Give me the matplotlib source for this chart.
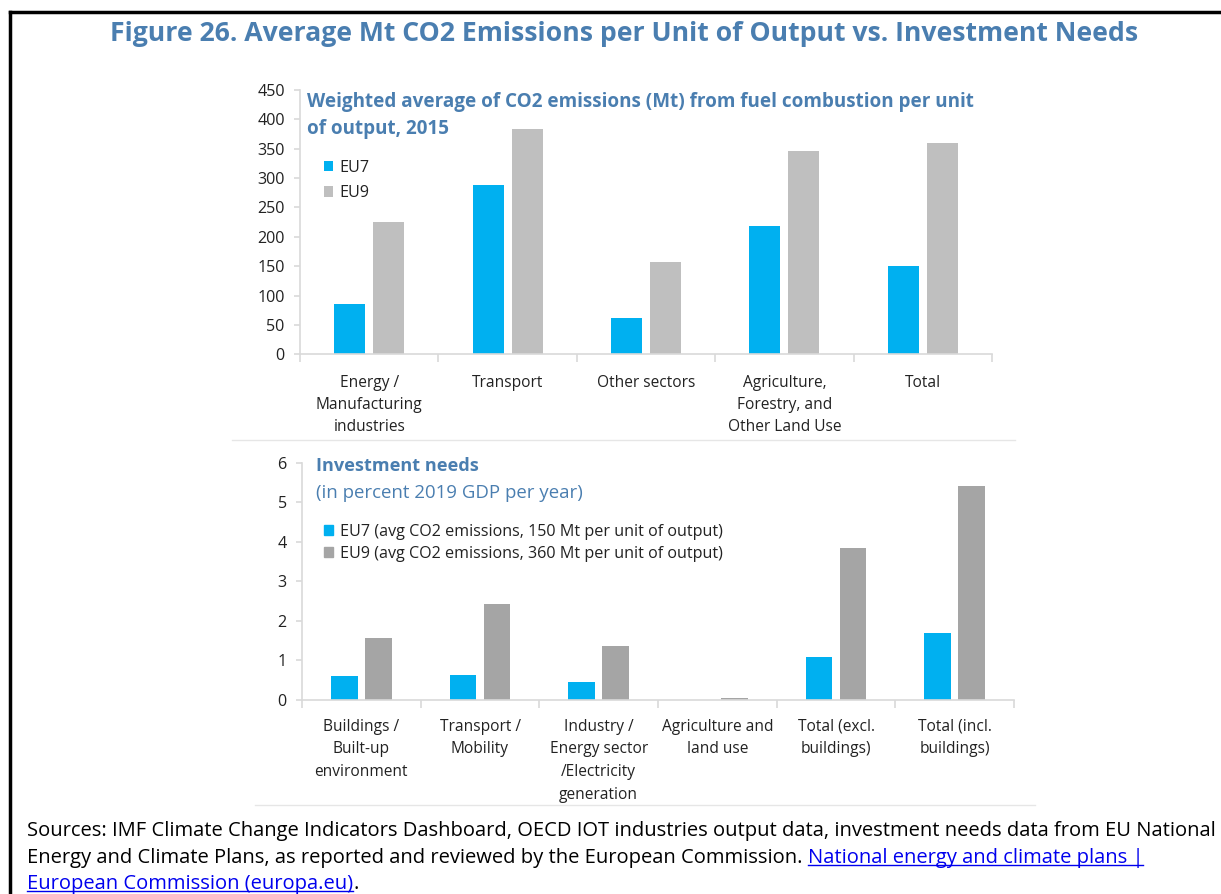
import matplotlib
matplotlib.use('Agg')
import matplotlib.pyplot as plt
import numpy as np
from matplotlib.lines import Line2D
from matplotlib.patches import Patch

plt.rcParams['font.family'] = ['Open Sans', 'DejaVu Sans']

W, H = 1221, 894

# top panel: CO2 emissions per unit of output
top_categories = ['Energy /\nManufacturing\nindustries', 'Transport', 'Other sectors',
                  'Agriculture,\nForestry, and\nOther Land Use', 'Total']
top_eu7 = [85, 289, 62, 218, 151]
top_eu9 = [225, 383, 157, 346, 359]

# bottom panel: investment needs
bot_categories = ['Buildings /\nBuilt-up\nenvironment', 'Transport /\nMobility',
                  'Industry /\nEnergy sector\n/Electricity\ngeneration',
                  'Agriculture and\nland use', 'Total (excl.\nbuildings)', 'Total (incl.\nbuildings)']
bot_eu7 = [0.61, 0.62, 0.46, 0.01, 1.08, 1.69]
bot_eu9 = [1.56, 2.43, 1.37, 0.05, 3.85, 5.41]

blue = '#00B0F0'
grey_top = '#BFBFBF'
grey_bot = '#A5A5A5'
title_blue = '#4A7EB0'
axis_grey = '#D9D9D9'
text_col = '#222222'


def fx(x):
    return x / W


def fy(y):
    return 1 - y / H


fig = plt.figure(figsize=(W / 100, H / 100), dpi=100)

# outer frame (top and left lines)
fig.add_artist(Line2D([fx(10), fx(10)], [fy(12), 0], color='black', lw=2.5))
fig.add_artist(Line2D([fx(10), 1], [fy(12), fy(12)], color='black', lw=2.5))

fig.text(fx(624), fy(34), 'Figure 26. Average Mt CO2 Emissions per Unit of Output vs. Investment Needs',
         ha='center', va='center', fontsize=19.2, fontweight='bold', color=title_blue)


def style_axes(ax, ncat, ymax, step, labels, pad, ls):
    for s in ['top', 'right']:
        ax.spines[s].set_visible(False)
    for s in ['left', 'bottom']:
        ax.spines[s].set_color(axis_grey)
        ax.spines[s].set_linewidth(1.2)
    ax.set_xlim(0, ncat)
    ax.set_ylim(0, ymax)
    ax.set_yticks(np.arange(0, ymax + step / 2, step))
    ax.set_xticks(np.arange(ncat) + 0.5)
    ax.set_xticklabels(labels, linespacing=ls)
    ax.set_xticks(np.arange(ncat + 1), minor=True)
    ax.tick_params(axis='x', which='major', length=0, pad=pad, labelsize=11.2, labelcolor=text_col)
    ax.tick_params(axis='x', which='minor', length=6, color=axis_grey, width=1.2)
    ax.tick_params(axis='y', length=4, color=axis_grey, width=1.2, labelsize=11.6,
                   labelcolor=text_col, pad=7)


# top chart
ax1 = fig.add_axes([fx(300), fy(354.3), (992 - 300) / W, (354.3 - 90) / H])
x = np.arange(len(top_categories)) + 0.5
bw = 0.224
off = 0.141
ax1.bar(x - off, top_eu7, bw, color=blue, label='EU7')
ax1.bar(x + off, top_eu9, bw, color=grey_top, label='EU9')
style_axes(ax1, len(top_categories), 450, 50, top_categories, 15, 1.5)
ax1.text(fx(307), fy(102), 'Weighted average of CO2 emissions (Mt) from fuel combustion per unit',
         transform=fig.transFigure, fontsize=13.6, fontweight='bold', color=title_blue, va='center')
ax1.text(fx(307), fy(129), 'of output, 2015',
         transform=fig.transFigure, fontsize=13.6, fontweight='bold', color=title_blue, va='center')
ax1.legend(loc='upper left', bbox_to_anchor=(fx(309), fy(145)), bbox_transform=fig.transFigure,
           frameon=False, fontsize=11.6, handlelength=0.6, handleheight=0.6, handletextpad=0.4,
           labelspacing=0.6, labelcolor=text_col)

# separator line
fig.add_artist(Line2D([fx(232), fx(1015)], [fy(440), fy(440)], color='#E6E6E6', lw=1))

# bottom chart
ax2 = fig.add_axes([fx(302), fy(700), (1014 - 302) / W, (700 - 462.7) / H])
x2 = np.arange(len(bot_categories)) + 0.5
bw2 = 0.227
off2 = 0.143
ax2.bar(x2 - off2, bot_eu7, bw2, color=blue)
ax2.bar(x2 + off2, bot_eu9, bw2, color=grey_bot)
style_axes(ax2, len(bot_categories), 6, 1, bot_categories, 13.5, 1.55)
ax2.text(fx(316), fy(466), 'Investment needs', transform=fig.transFigure, fontsize=13.1,
         fontweight='bold', color=title_blue, va='center')
ax2.text(fx(316), fy(493), '(in percent 2019 GDP per year)', transform=fig.transFigure, fontsize=13.4,
         color=title_blue, va='center')
handles = [Patch(color=blue), Patch(color=grey_bot)]
ax2.legend(handles, ['EU7 (avg CO2 emissions, 150 Mt per unit of output)',
                     'EU9 (avg CO2 emissions, 360 Mt per unit of output)'],
           loc='upper left', bbox_to_anchor=(fx(309), fy(509)), bbox_transform=fig.transFigure,
           frameon=False, fontsize=11.6, handlelength=0.6, handleheight=0.6, handletextpad=0.4,
           labelspacing=0.4, labelcolor=text_col)

fig.add_artist(Line2D([fx(255), fx(1035)], [fy(805), fy(805)], color='#E6E6E6', lw=1))

# sources
fs = 14.5
src_kw = dict(fontsize=fs, color='black', va='center', ha='left')
fig.text(fx(27), fy(831), 'Sources: IMF Climate Change Indicators Dashboard, OECD IOT industries output data, '
         'investment needs data from EU National', **src_kw)
t2 = fig.text(fx(27), fy(858), 'Energy and Climate Plans, as reported and reviewed by the European Commission. ',
              **src_kw)
fig.canvas.draw()
r = fig.canvas.get_renderer()
bb = t2.get_window_extent(r)
link_col = '#0000EE'
l1 = fig.text(bb.x1 / W, fy(858), 'National energy and climate plans |', fontsize=fs, color=link_col,
              va='center', ha='left')
l2 = fig.text(fx(27), fy(884), 'European Commission (europa.eu)', fontsize=fs, color=link_col,
              va='center', ha='left')
fig.canvas.draw()
for lt in (l1, l2):
    b = lt.get_window_extent(r)
    yline = b.y0 + 3
    fig.add_artist(Line2D([b.x0 / W, b.x1 / W], [yline / H, yline / H], color=link_col, lw=1))
b = l2.get_window_extent(r)
fig.text(b.x1 / W, fy(884), '.', **src_kw)

fig.savefig('out.png', dpi=100)
